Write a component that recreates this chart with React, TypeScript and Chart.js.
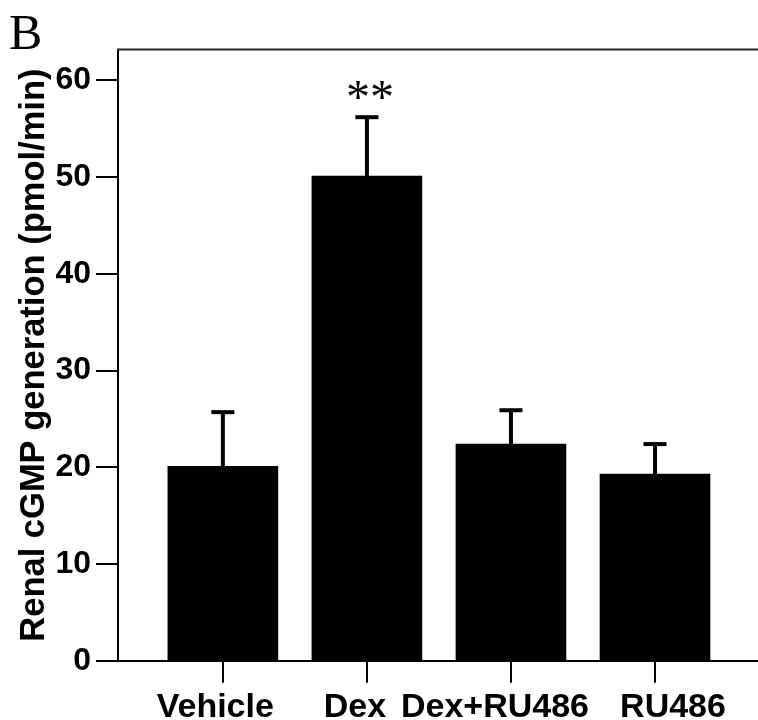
import React, { useEffect, useRef } from "react";
import { Chart, registerables } from "chart.js";

Chart.register(...registerables);

const categories = ["Vehicle", "Dex", "Dex+RU486", "RU486"];
const means = [20.1, 50.1, 22.4, 19.3];
const errors = [5.6, 6.1, 3.5, 3.1];
const yTicks = [0, 10, 20, 30, 40, 50, 60];
const significance = ["", "**", "", ""];
const panelLabel = "B";
const yTitle = "Renal cGMP generation (pmol/min)";

const SANS = "'Liberation Sans', Arial, Helvetica, sans-serif";
const SERIF = "'Liberation Serif', 'Times New Roman', serif";

// style: horizontal nudges of the category labels relative to their ticks (px)
const labelNudge = [-7.6, -12, -16, 18];

const extrasPlugin = {
  id: "extras",
  afterDatasetsDraw(chart: any) {
    const { ctx, chartArea, scales } = chart;
    const xs = scales.x;
    const ys = scales.y;
    ctx.save();
    // top frame line
    ctx.strokeStyle = "#222";
    ctx.lineWidth = 2;
    ctx.beginPath();
    ctx.moveTo(chartArea.left - 1, chartArea.top);
    ctx.lineTo(chartArea.right, chartArea.top);
    ctx.stroke();
    // error bars
    ctx.fillStyle = "#000";
    means.forEach((m, i) => {
      const x = xs.getPixelForValue(i);
      const yTop = ys.getPixelForValue(m + errors[i]);
      const yBase = ys.getPixelForValue(m);
      ctx.fillRect(x - 2, yTop, 4, yBase - yTop);
      ctx.fillRect(x - 11.5, yTop - 2, 23, 4);
      if (significance[i]) {
        ctx.font = `48px ${SERIF}`;
        ctx.textAlign = "center";
        ctx.textBaseline = "alphabetic";
        ctx.fillText(significance[i], x + 3, yTop - 4);
      }
    });
    // category labels
    ctx.font = `bold 34px ${SANS}`;
    ctx.textAlign = "center";
    ctx.textBaseline = "alphabetic";
    categories.forEach((c, i) => {
      const x = xs.getPixelForValue(i) + labelNudge[i];
      ctx.fillText(c, x, xs.bottom - 3);
    });
    // panel label
    ctx.font = `50px ${SERIF}`;
    ctx.textAlign = "left";
    ctx.fillText(panelLabel, 9, 49);
    ctx.restore();
  },
};

export default function App() {
  const ref = useRef<HTMLCanvasElement | null>(null);

  useEffect(() => {
    if (!ref.current) return;
    const chart = new Chart(ref.current, {
      type: "bar",
      data: {
        datasets: [
          {
            data: means.map((m, i) => ({ x: i, y: m })),
            backgroundColor: "#000",
            borderWidth: 0,
            barThickness: 110,
          },
        ],
      },
      options: {
        animation: false,
        responsive: false,
        layout: { padding: { top: 49.5, right: 0, left: 0, bottom: 0 } },
        plugins: {
          legend: { display: false },
          tooltip: { enabled: false },
        },
        scales: {
          x: {
            type: "linear",
            offset: false,
            min: -0.728,
            max: 3.715,
            afterBuildTicks: (scale: any) => {
              scale.ticks = categories.map((_, i) => ({ value: i }));
            },
            afterFit: (scale: any) => {
              scale.height = 59.3;
            },
            grid: {
              offset: false,
              drawOnChartArea: false,
              drawTicks: true,
              tickLength: 22,
              color: "#000",
              lineWidth: 2,
            },
            border: { display: true, color: "#000", width: 2 },
            ticks: {
              display: false,
              autoSkip: false,
              maxRotation: 0,
            },
          },
          y: {
            min: 0,
            max: 63.2,
            afterBuildTicks: (scale: any) => {
              scale.ticks = yTicks.map((v) => ({ value: v }));
            },
            afterFit: (scale: any) => {
              scale.width = 118;
            },
            grid: {
              drawOnChartArea: false,
              drawTicks: true,
              tickLength: 22,
              color: "#000",
              lineWidth: 2,
            },
            border: { display: true, color: "#000", width: 2 },
            ticks: {
              padding: 5,
              color: "#000",
              font: { family: SANS, size: 32, weight: "bold" },
            },
            title: {
              display: true,
              text: yTitle,
              color: "#000",
              padding: { top: 14, bottom: 0 },
              font: { family: SANS, size: 34.5, weight: "bold" },
            },
          },
        },
      },
      plugins: [extrasPlugin],
    });
    return () => chart.destroy();
  }, []);

  return (
    <div style={{ position: "absolute", left: 0, top: 0, width: 758, height: 720, background: "#fff" }}>
      <canvas ref={ref} width={758} height={720} />
    </div>
  );
}
